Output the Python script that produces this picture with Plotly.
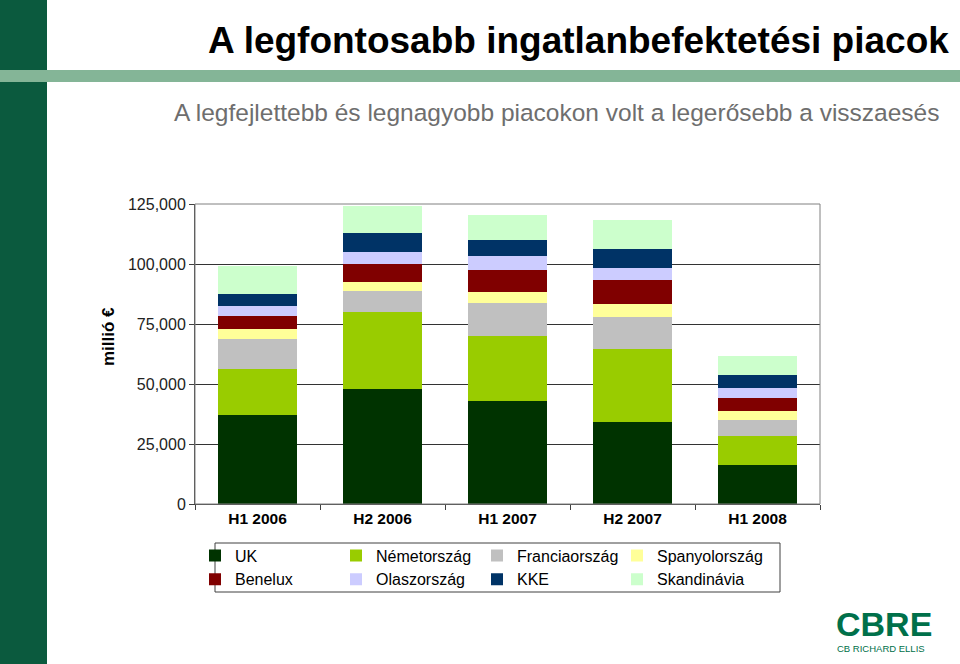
import plotly.graph_objects as go

categories = ["H1 2006", "H2 2006", "H1 2007", "H2 2007", "H1 2008"]
series_names = ["UK", "Németország", "Franciaország", "Spanyolország",
                "Benelux", "Olaszország", "KKE", "Skandinávia"]
uk = [37000, 48000, 42800, 34000, 16250]
nemetorszag = [19400, 32100, 27200, 30700, 12100]
franciaorszag = [12500, 8800, 13900, 13200, 6700]
spanyolorszag = [4200, 3500, 4600, 5300, 3750]
benelux = [5300, 7600, 9100, 10300, 5300]
olaszorszag = [4100, 4900, 5700, 5000, 4300]
kke = [5000, 8000, 6600, 7600, 5300]
skandinavia = [11800, 11300, 10600, 12100, 8100]
y_ticks = [0, 25000, 50000, 75000, 100000, 125000]

values = [uk, nemetorszag, franciaorszag, spanyolorszag, benelux, olaszorszag, kke, skandinavia]
colors = ["#003300", "#99CC00", "#C0C0C0", "#FFFF99", "#800000", "#CCCCFF", "#003366", "#CCFFCC"]
# legend column for each series (4 columns x 2 rows, as in the reference)
legend_ids = ["legend", "legend2", "legend3", "legend4", "legend", "legend2", "legend3", "legend4"]

FONT = "Arial, Liberation Sans, sans-serif"

fig = go.Figure()
for name, vals, col, lg in zip(series_names, values, colors, legend_ids):
    fig.add_trace(go.Bar(x=categories, y=vals, name=name, legend=lg,
                         marker=dict(color=col, line=dict(width=0))))

def legend_at(px):
    return dict(
        orientation="v", x=px/625, xanchor="left",
        y=-0.115, yanchor="top",
        font=dict(size=16, color="#000000", family=FONT),
        bgcolor="rgba(0,0,0,0)", borderwidth=0, traceorder="normal",
        itemwidth=30, tracegroupgap=0,
    )

fig.update_layout(
    width=960, height=664,
    barmode="stack", bargap=0.375,
    margin=dict(l=195, r=140, t=204, b=160),
    paper_bgcolor="white", plot_bgcolor="white",
    font=dict(family=FONT, color="#000000"),
    showlegend=True,
    legend=legend_at(0),
    legend2=legend_at(141),
    legend3=legend_at(282),
    legend4=legend_at(422),
    xaxis=dict(
        type="category", tickson="boundaries", ticks="outside", ticklen=5, tickcolor="#404040",
        showline=True, linecolor="#404040", linewidth=1,
        tickfont=dict(size=15.5, family=FONT, color="#000000", weight="bold"),
        showgrid=False, range=[-0.5, 4.5],
    ),
    yaxis=dict(
        range=[0, 125000], tickvals=y_ticks, tickformat=",d",
        ticks="outside", ticklen=5, tickcolor="#404040",
        showline=True, linecolor="#404040", linewidth=1,
        showgrid=True, gridcolor="#333333", gridwidth=1,
        tickfont=dict(size=16, family=FONT, color="#222222"),
        zeroline=False,
    ),
    shapes=[
        dict(type="rect", xref="paper", yref="paper", x0=0, x1=1, y0=0, y1=1,
             line=dict(color="#808080", width=1), fillcolor="rgba(0,0,0,0)", layer="above"),
        dict(type="rect", xref="paper", yref="paper", x0=-195/625, x1=-148/625,
             y0=-160/300, y1=(300+204)/300, line=dict(width=0), fillcolor="#0B5A3E", layer="below"),
        dict(type="rect", xref="paper", yref="paper", x0=-195/625, x1=(625+140)/625,
             y0=(504-82)/300, y1=(504-70)/300, line=dict(width=0), fillcolor="#84B597", layer="below"),
        dict(type="rect", xref="paper", yref="paper", x0=20/625, x1=585/625,
             y0=(504-592)/300, y1=(504-543)/300, line=dict(color="#404040", width=1),
             fillcolor="rgba(0,0,0,0)"),
    ],
    annotations=[
        dict(text="<b>A legfontosabb ingatlanbefektetési piacok</b>", xref="paper", yref="paper",
             x=(951-195)/625, y=(504-40)/300, xanchor="right", yanchor="middle", showarrow=False,
             font=dict(size=37, color="#000000", family=FONT)),
        dict(text="A legfejlettebb és legnagyobb piacokon volt a legerősebb a visszaesés", xref="paper", yref="paper",
             x=(941-195)/625, y=(504-112)/300, xanchor="right", yanchor="middle", showarrow=False,
             font=dict(size=24.5, color="#6E6E6E", family=FONT)),
        dict(text="<b>millió €</b>", xref="paper", yref="paper", textangle=-90,
             x=(108-195)/625, y=(504-337)/300, xanchor="center", yanchor="middle", showarrow=False,
             font=dict(size=17, color="#000000", family=FONT)),
        dict(text="<b>CBRE</b>", xref="paper", yref="paper",
             x=(834-195)/625, y=(504-624)/300, xanchor="left", yanchor="middle", showarrow=False,
             font=dict(size=34, color="#00704A", family=FONT)),
        dict(text="CB RICHARD ELLIS", xref="paper", yref="paper",
             x=(835-195)/625, y=(504-648)/300, xanchor="left", yanchor="middle", showarrow=False,
             font=dict(size=9.5, color="#00704A", family=FONT)),
    ],
)

fig.write_html("out.html", config={"displayModeBar": False},
               post_script="document.body.style.margin='0';")
